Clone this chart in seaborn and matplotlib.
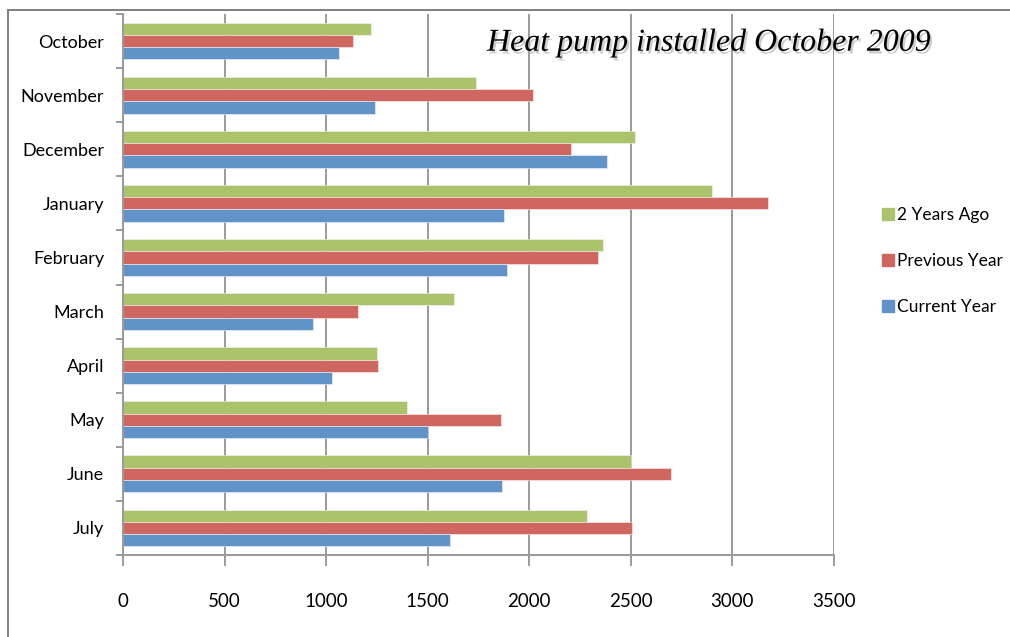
import pandas as pd
import numpy as np
import matplotlib
matplotlib.use("Agg")
import matplotlib.pyplot as plt
import matplotlib.patheffects as pe
from matplotlib.lines import Line2D
import seaborn as sns

# Datos
meses = ["October", "November", "December", "January", "February",
         "March", "April", "May", "June", "July"]
dos_anios = [1220, 1737, 2520, 2900, 2365, 1630, 1250, 1398, 2500, 2283]
anio_previo = [1132, 2018, 2205, 3177, 2340, 1155, 1255, 1862, 2697, 2505]
anio_actual = [1063, 1240, 2382, 1877, 1892, 933, 1030, 1503, 1865, 1610]

series = ["2 Years Ago", "Previous Year", "Current Year"]
colores = ["#ABC46C", "#CF6660", "#6193C8"]

df = pd.DataFrame({
    "mes": meses * 3,
    "serie": [series[0]] * 10 + [series[1]] * 10 + [series[2]] * 10,
    "valor": dos_anios + anio_previo + anio_actual,
})

sns.set_style("white")
plt.rcParams["font.family"] = ["Lato", "DejaVu Sans"]

fig = plt.figure(figsize=(10.1, 6.37), dpi=100)
ax = fig.add_axes([0.1218, 0.1287, 0.8257 - 0.1218, 0.9780 - 0.1287])

sns.barplot(
    data=df, x="valor", y="mes", hue="serie",
    order=meses, hue_order=series, palette=colores,
    orient="h", width=0.68, edgecolor="#f4f4f4", linewidth=0.4,
    saturation=1, ax=ax
)

ax.set_xlim(0, 3500)
ax.set_ylim(9.5, -0.5)
ax.set_xticks(np.arange(0, 3501, 500))
ax.set_xlabel("")
ax.set_ylabel("")

# Rejilla vertical
ax.grid(axis="x", color="#9a9a9a", linewidth=1.4)
ax.set_axisbelow(True)

for lado in ["top", "right"]:
    ax.spines[lado].set_visible(False)
for lado in ["left", "bottom"]:
    ax.spines[lado].set_color("#9a9a9a")
    ax.spines[lado].set_linewidth(1.4)

ax.tick_params(axis="x", direction="out", length=8, width=1.4,
               color="#9a9a9a", pad=19, labelsize=13.5, bottom=True,
               labelcolor="black")
ax.tick_params(axis="y", which="major", length=0, pad=13.5, labelsize=13,
               labelcolor="black")
ax.set_yticks(np.arange(-0.5, 10, 1), minor=True)
ax.tick_params(axis="y", which="minor", direction="out", length=5,
               width=1.4, color="#9a9a9a", left=True)

# Leyenda
manijas = [Line2D([], [], marker="s", linestyle="none", markersize=8,
                  markerfacecolor=c, markeredgecolor=c) for c in colores]
fig.legend(manijas, series, loc="center left",
           bbox_to_anchor=(0.859, 1 - 261 / 637), frameon=False,
           fontsize=12.5, handlelength=0.6, handletextpad=0.2,
           labelspacing=1.75, labelcolor="black")
if ax.get_legend() is not None:
    ax.get_legend().remove()

# Título con sombra
fig.text(487 / 1010, 1 - 43 / 637, "Heat pump installed October 2009",
         family=["Liberation Serif", "DejaVu Serif"], style="italic",
         fontsize=23, ha="left", va="center", color="black",
         path_effects=[pe.withSimplePatchShadow(offset=(1.5, -2),
                                                shadow_rgbFace="#aaaaaa",
                                                alpha=0.6)])

# Borde exterior
fig.add_artist(Line2D([8 / 1010, 1], [1 - 10 / 637, 1 - 10 / 637],
                      transform=fig.transFigure, color="#7f7f7f", linewidth=1.4))
fig.add_artist(Line2D([8 / 1010, 8 / 1010], [0, 1 - 10 / 637],
                      transform=fig.transFigure, color="#7f7f7f", linewidth=1.4))

fig.savefig("out.png", dpi=100)
